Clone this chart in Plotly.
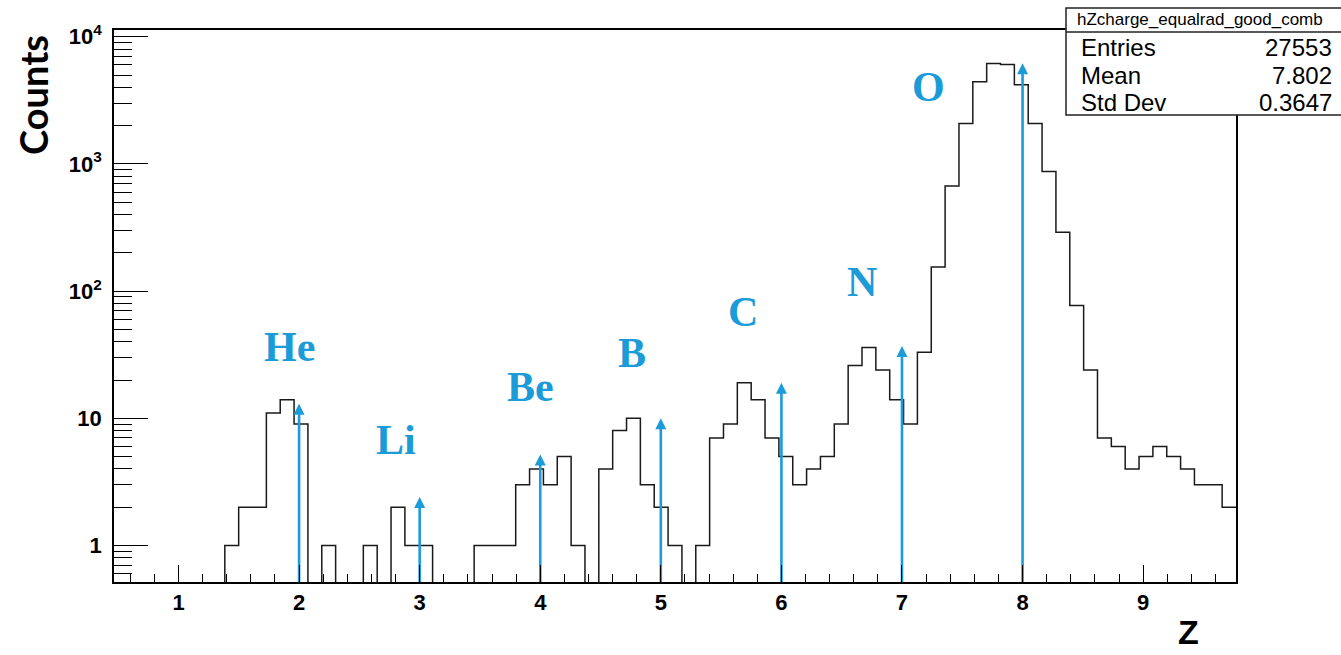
import numpy as np
import plotly.graph_objects as go

# ---- histogram: reconstructed charge Z, 81 uniform bins ----
z_low, z_high = 0.465, 9.77
n_bins = 81
counts = [0, 0, 0, 0, 0, 0, 0, 0, 1, 2, 2, 11, 14, 9, 0, 1, 0, 0, 1, 0,
          2, 1, 1, 0, 0, 0, 1, 1, 1, 3, 4, 3, 5, 1, 0, 4, 8, 10, 3, 2,
          1, 0, 1, 7, 9, 19, 14, 7, 5, 3, 4, 5, 9, 26, 36, 24, 14, 9, 33, 155,
          670, 2080, 4420, 6150, 6050, 4200, 2080, 870, 290, 77, 24, 7, 6, 4, 5, 6, 5, 4, 3, 3,
          2]
assert len(counts) == n_bins

# ---- nuclear species markers ----
species = ["He", "Li", "Be", "B", "C", "N", "O"]
species_z = [2, 3, 4, 5, 6, 7, 8]
marker_top = [13, 2.4, 5.2, 10, 19, 37, 6200]

# ---- axis ticks ----
x_tick_vals = [1, 2, 3, 4, 5, 6, 7, 8, 9]
y_tick_vals = [1, 10, 100, 1000, 10000]
y_tick_text = ["1", "10", "10<sup>2</sup>", "10<sup>3</sup>", "10<sup>4</sup>"]
y_min, y_max = 0.516, 11300

# ---- statistics box ----
stats_title = "hZcharge_equalrad_good_comb"
stats_names = ["Entries", "Mean", "Std Dev"]
stats_values = ["27553", "7.802", "0.3647"]

BLUE = "#1b9bd7"
W, H = 1341, 655
L, R, T, B = 114, 105, 30, 73
PW, PH = W - L - R, H - T - B
DECADE_PX = PH / (np.log10(y_max) - np.log10(y_min))


def px(xp):
    return (xp - L) / PW


def py(yp):
    return (H - B - yp) / PH


width = (z_high - z_low) / n_bins
edges = z_low + width * np.arange(n_bins + 1)
floor = 0.05  # empty bins fall to the bottom of the frame
y_step = [c if c > 0 else floor for c in counts]
y_step = y_step + [y_step[-1]]

fig = go.Figure()
fig.add_trace(go.Scatter(
    x=edges, y=y_step, mode="lines", line_shape="hv",
    line=dict(color="#1a1a1a", width=1.5), showlegend=False, hoverinfo="skip",
))

# arrows marking each species' nominal charge: shaft + arrow-up head
head_px = 11
for z, top in zip(species_z, marker_top):
    shaft_end = top / 10 ** ((head_px - 2) / DECADE_PX)
    fig.add_trace(go.Scatter(
        x=[z, z], y=[floor, shaft_end], mode="lines",
        line=dict(color=BLUE, width=2.6), showlegend=False, hoverinfo="skip",
    ))
    fig.add_trace(go.Scatter(
        x=[z], y=[top], mode="markers",
        marker=dict(symbol="arrow-up", size=head_px, color=BLUE,
                    line=dict(width=0)),
        showlegend=False, hoverinfo="skip", cliponaxis=False,
    ))

minor_y = []
for dec in [0.1, 1, 10, 100, 1000]:
    for m in range(2, 10):
        v = dec * m
        if y_min < v < y_max and v not in y_tick_vals:
            minor_y.append(v)

tick_font = dict(family="Liberation Sans, Arial, sans-serif", size=22,
                 color="black", weight="bold")

fig.update_layout(
    width=W, height=H,
    margin=dict(l=L, r=R, t=T, b=B, pad=0),
    paper_bgcolor="white", plot_bgcolor="white",
    showlegend=False,
    xaxis=dict(
        range=[z_low, z_high], showgrid=False, zeroline=False,
        showline=True, linecolor="black", linewidth=1.5, mirror=True,
        ticks="inside", ticklen=17, tickwidth=1.2, tickcolor="black",
        tickmode="array", tickvals=x_tick_vals,
        ticktext=[str(v) for v in x_tick_vals],
        tickfont=tick_font,
        minor=dict(ticks="inside", ticklen=8, tickwidth=1.2, tickcolor="black",
                   dtick=0.2, tick0=0, showgrid=False),
    ),
    yaxis=dict(
        type="log", range=[np.log10(y_min), np.log10(y_max)],
        showgrid=False, zeroline=False,
        showline=True, linecolor="black", linewidth=1.5, mirror=True,
        ticks="inside", ticklen=34, tickwidth=1.2, tickcolor="black",
        tickmode="array", tickvals=y_tick_vals, ticktext=y_tick_text,
        tickfont=tick_font, ticklabelstandoff=6,
        minor=dict(ticks="inside", ticklen=18, tickwidth=1.2, tickcolor="black",
                   tickvals=minor_y, showgrid=False),
    ),
)

# species names
label_pos = [(289, 347), (396, 440), (530, 387), (632, 353),
             (743, 312), (862, 282), (928, 87)]
for name, (lx, ly) in zip(species, label_pos):
    fig.add_annotation(
        x=px(lx), y=py(ly), xref="paper", yref="paper", text=name,
        showarrow=False, xanchor="center", yanchor="middle",
        font=dict(family="Liberation Serif, DejaVu Serif, serif", size=42,
                  color=BLUE, weight="bold"),
    )

# axis titles
fig.add_annotation(
    x=px(33), y=py(95), xref="paper", yref="paper", text="Counts",
    textangle=-90, showarrow=False, xanchor="center", yanchor="middle",
    font=dict(family="Lato, Open Sans, sans-serif", size=38, color="black",
              weight="bold"),
)
fig.add_annotation(
    x=px(1188), y=py(653), xref="paper", yref="paper", text="Z",
    showarrow=False, xanchor="center", yanchor="bottom",
    font=dict(family="Liberation Sans, Arial, sans-serif", size=34,
              color="black", weight="bold"),
)

# statistics box
box_l, box_r, box_t, box_b, box_div = 1066, 1346, 8, 115, 32
fig.add_shape(type="rect", xref="paper", yref="paper",
              x0=px(box_l), x1=px(box_r), y0=py(box_b), y1=py(box_t),
              line=dict(color="#222222", width=1.5), fillcolor="white",
              layer="above")
fig.add_shape(type="line", xref="paper", yref="paper",
              x0=px(box_l), x1=px(box_r), y0=py(box_div), y1=py(box_div),
              line=dict(color="#222222", width=1.5), layer="above")
fig.add_annotation(
    x=px(1200), y=py(19), xref="paper", yref="paper", text=stats_title,
    showarrow=False, xanchor="center", yanchor="middle",
    font=dict(family="Liberation Sans, Arial, sans-serif", size=17,
              color="black"),
)
row_y = [47, 75, 102]
for name, val, ry in zip(stats_names, stats_values, row_y):
    fig.add_annotation(
        x=px(1079), y=py(ry), xref="paper", yref="paper", text=name,
        showarrow=False, xanchor="left", yanchor="middle",
        font=dict(family="Liberation Sans, Arial, sans-serif", size=24,
                  color="black"),
    )
    fig.add_annotation(
        x=px(1334), y=py(ry), xref="paper", yref="paper", text=val,
        showarrow=False, xanchor="right", yanchor="middle",
        font=dict(family="Liberation Sans, Arial, sans-serif", size=24,
                  color="black"),
    )

fig.write_html("out.html")
